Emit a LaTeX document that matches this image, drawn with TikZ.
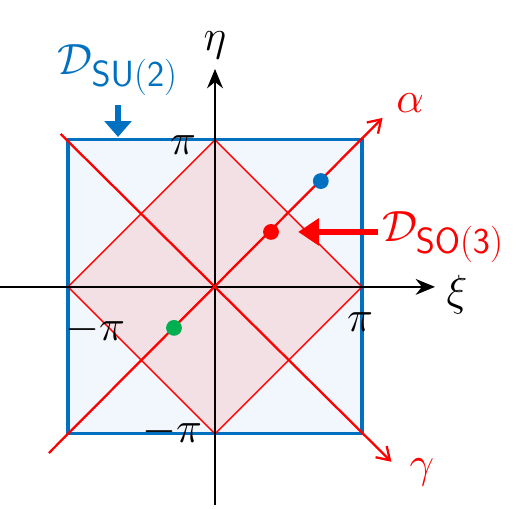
\documentclass[tikz,border=0pt]{standalone}
\usepackage{amsmath, amssymb}
\usetikzlibrary{arrows.meta}
\definecolor{sublue}{RGB}{0,112,192}
\definecolor{sqfill}{RGB}{241,247,252}
\definecolor{dmfill}{RGB}{243,224,228}
\definecolor{sored}{RGB}{255,0,0}
\definecolor{dotgreen}{RGB}{0,176,80}

\begin{document}
\begin{tikzpicture}[x=2.94cm, y=2.94cm,
    lbl/.style={font=\fontsize{30}{34}\selectfont, inner sep=0pt},
    tick/.style={font=\fontsize{26}{30}\selectfont, inner sep=0pt},
    redline/.style={sored, line width=1.3pt},
    pt/.style={circle, inner sep=0pt, minimum size=9pt}]
  \useasboundingbox (-1.463,-1.510) rectangle (2.116,1.952);
  % domains
  \draw[sublue, line width=1.8pt, fill=sqfill] (-1,-1) rectangle (1,1);
  \draw[redline, line width=0.8pt, fill=dmfill] (-1,0) -- (0,1) -- (1,0) -- (0,-1) -- cycle;
  % axes
  \draw[line width=1.4pt, -{Stealth[length=11pt, width=9pt]}] (-1.463,0) -- (1.497,0);
  \draw[line width=1.4pt, -{Stealth[length=11pt, width=9pt]}] (0,-1.483) -- (0,1.483);
  \node[lbl] (xi) at (1.646,-0.054) {$\xi$};
  \node[lbl] (eta) at (0,1.646) {$\eta$};
  % diagonals
  \draw[redline, -{Straight Barb[length=7pt, width=9pt]}] (-1.13,-1.13) -- (1.14,1.15);
  \draw[redline, -{Straight Barb[length=7pt, width=9pt]}] (-1.05,1.04) -- (1.2,-1.19);
  \node[lbl, text=sored] (alpha) at (1.327,1.252) {$\alpha$};
  \node[lbl, text=sored] (gamma) at (1.408,-1.265) {$\gamma$};
  % ticks
  \node[tick] (pitop) at (-0.218,0.966) {$\pi$};
  \node[tick] (pibot) at (-0.293,-0.986) {$-\pi$};
  \node[tick] (pileft) at (-0.816,-0.293) {$-\pi$};
  \node[tick] (piright) at (0.986,-0.238) {$\pi$};
  % points
  \node[pt, fill=sublue] (pblue) at (0.72,0.72) {};
  \node[pt, fill=sored] (pred) at (0.381,0.374) {};
  \node[pt, fill=dotgreen] (pgreen) at (-0.279,-0.279) {};
  % domain labels
  \node[lbl, text=sublue] (dsu) at (-0.66,1.476) {$\mathcal{D}_{\mathsf{SU(2)}}$};
  \coordinate (dsutip) at (-0.66,1.02);
  \draw[sublue, line width=3pt, -{Triangle[length=9pt, width=15pt]}] (-0.66,1.238) -- (dsutip);
  \node[lbl, text=sored] (dso) at (1.551,0.34) {$\mathcal{D}_{\mathsf{SO(3)}}$};
  \coordinate (dsotip) at (0.565,0.374);
  \draw[sored, line width=3pt, -{Triangle[length=12pt, width=15pt]}] (1.109,0.374) -- (dsotip);
\end{tikzpicture}
\end{document}
